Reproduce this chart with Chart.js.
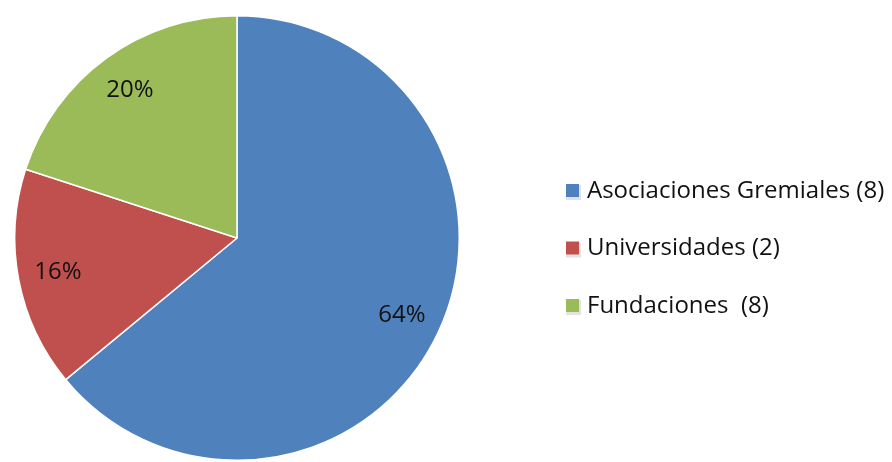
<!DOCTYPE html>
<html>
<head>
<meta charset="utf-8">
<script src="https://cdn.jsdelivr.net/npm/chart.js@4/dist/chart.umd.min.js"></script>
<style>
  html, body { margin: 0; padding: 0; background: #fff; }
  #wrap { width: 892px; height: 462px; position: relative; }
</style>
</head>
<body>
<div id="wrap"><canvas id="chart" width="892" height="462"></canvas></div>
<script>
const categories = ['Asociaciones Gremiales (8)', 'Universidades (2)', 'Fundaciones  (8)'];
const percentages = [64, 16, 20];
const percentLabels = ['64%', '16%', '20%'];
const sliceColors = ['#4F81BD', '#C0504D', '#9BBB59'];

// labels drawn inside each slice, at ~82% of the radius
const sliceLabels = {
    id: 'sliceLabels',
    afterDatasetsDraw(chart) {
        const ctx = chart.ctx;
        const meta = chart.getDatasetMeta(0);
        ctx.save();
        ctx.font = '24px "Open Sans", sans-serif';
        ctx.fillStyle = '#111';
        ctx.textAlign = 'center';
        ctx.textBaseline = 'middle';
        meta.data.forEach((arc, i) => {
            const mid = (arc.startAngle + arc.endAngle) / 2;
            const r = arc.outerRadius * 0.82;
            ctx.fillText(percentLabels[i], arc.x + Math.cos(mid) * r, arc.y + Math.sin(mid) * r);
        });
        ctx.restore();
    }
};

// legend on the right, drawn by hand to match the spacing
const sideLegend = {
    id: 'sideLegend',
    afterDraw(chart) {
        const ctx = chart.ctx;
        ctx.save();
        ctx.font = '24px "Open Sans", sans-serif';
        ctx.textBaseline = 'middle';
        categories.forEach((label, i) => {
            const y = 191 + i * 57.5;
            ctx.fillStyle = '#e2e2e2';
            ctx.fillRect(566, y - 6, 15, 15);
            ctx.fillStyle = sliceColors[i];
            ctx.fillRect(566, y - 7, 13, 13);
            ctx.fillStyle = '#111';
            ctx.fillText(label, 587, y);
        });
        ctx.restore();
    }
};

new Chart(document.getElementById('chart'), {
    type: 'pie',
    data: {
        labels: categories,
        datasets: [{
            data: percentages,
            backgroundColor: sliceColors,
            borderColor: '#ffffff',
            borderWidth: 1.5
        }]
    },
    options: {
        responsive: false,
        animation: false,
        layout: { padding: { left: 14, right: 432, top: 15, bottom: 1 } },
        plugins: {
            legend: { display: false },
            tooltip: { enabled: false }
        }
    },
    plugins: [sliceLabels, sideLegend]
});
</script>
</body>
</html>
